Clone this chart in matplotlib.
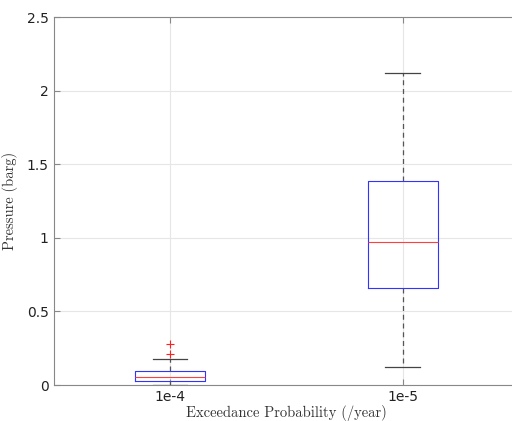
import matplotlib
matplotlib.use("Agg")
import matplotlib.pyplot as plt

# box statistics
labels = ["1e-4", "1e-5"]
medians = [0.056, 0.972]
q1 = [0.027, 0.659]
q3 = [0.095, 1.386]
whislo = [0.0, 0.122]
whishi = [0.177, 2.12]
fliers = [[0.21, 0.28], []]

stats = []
for i in range(len(labels)):
    stats.append(dict(label=labels[i], med=medians[i], q1=q1[i], q3=q3[i],
                      whislo=whislo[i], whishi=whishi[i], fliers=fliers[i]))

fig = plt.figure(figsize=(5.12, 4.21), dpi=100)
ax = fig.add_axes([0.1045, 0.0855, 0.910, 0.874])

ax.bxp(stats, positions=[1, 2], widths=0.3,
       boxprops=dict(color="#3333ff", linewidth=0.8),
       medianprops=dict(color="#ff4040", linewidth=0.8),
       whiskerprops=dict(color="#555555", linestyle=(0, (4, 3)), linewidth=0.9),
       capprops=dict(color="#444444", linewidth=0.9),
       capwidths=0.15,
       flierprops=dict(marker="+", markeredgecolor="#ff2020", markersize=6,
                       markeredgewidth=0.8, linestyle="none"))

ax.set_xlim(0.5, 2.5)
ax.set_ylim(0, 2.5)
ax.set_yticks([0, 0.5, 1, 1.5, 2, 2.5])
ax.set_yticklabels(["0", "0.5", "1", "1.5", "2", "2.5"])
ax.grid(True, color="#e6e6e6", linewidth=0.8)
ax.set_axisbelow(True)

for s in ax.spines.values():
    s.set_color("#888888")
    s.set_linewidth(0.8)
# the right edge of the axes falls outside the picture
ax.spines["right"].set_visible(False)
ax.tick_params(direction="in", length=4, color="#888888", labelsize=10,
               labelcolor="#222222", right=False, top=True)

ax.set_xlabel("Exceedance Probability (/year)", fontname="cmr10", fontsize=10.5,
              color="#333333", labelpad=1)
ax.set_ylabel("Pressure (barg)", fontname="cmr10", fontsize=10.5,
              color="#333333", labelpad=6)

fig.savefig("out.png", dpi=100)
